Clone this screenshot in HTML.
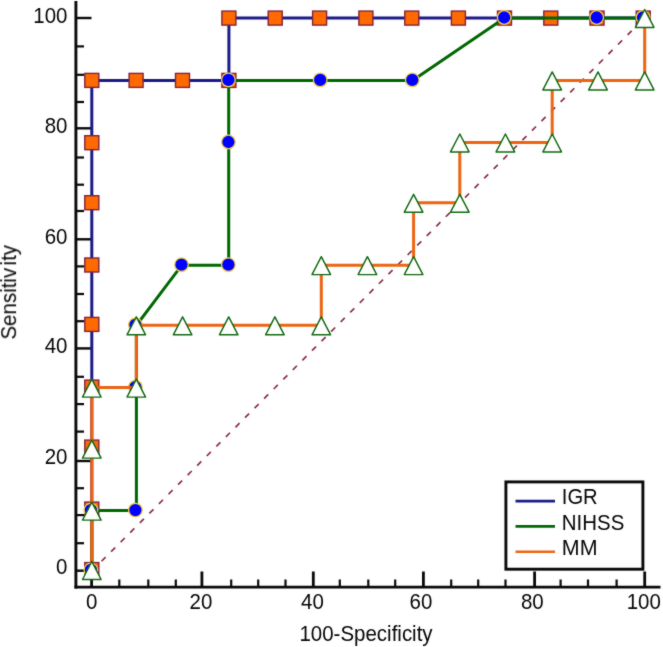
<!DOCTYPE html>
<html><head><meta charset="utf-8"><style>
html,body{margin:0;padding:0;background:#fff;}
svg{display:block;}
text{font-family:"Liberation Sans",sans-serif;font-size:20.5px;fill:#050505;}
</style></head><body>
<svg width="663" height="647" viewBox="0 0 663 647">
<defs><filter id="soft" x="0" y="0" width="663" height="647" filterUnits="userSpaceOnUse" color-interpolation-filters="sRGB"><feConvolveMatrix order="3" kernelMatrix="1 2 1 2 20 2 1 2 1" divisor="32" edgeMode="duplicate" preserveAlpha="true"/></filter></defs>
<g filter="url(#soft)">
<rect x="0" y="0" width="663" height="647" fill="#fff"/>
<line x1="75.9" y1="1" x2="75.9" y2="588.6" stroke="#080808" stroke-width="2.9"/>
<line x1="74.45" y1="587.1" x2="660.5" y2="587.1" stroke="#080808" stroke-width="2.9"/>
<line x1="75.9" y1="570.7" x2="91.5" y2="570.7" stroke="#080808" stroke-width="2.4"/>
<line x1="75.9" y1="543.2" x2="84" y2="543.2" stroke="#080808" stroke-width="2.2"/>
<line x1="75.9" y1="515.1" x2="84" y2="515.1" stroke="#080808" stroke-width="2.2"/>
<line x1="75.9" y1="488.2" x2="84" y2="488.2" stroke="#080808" stroke-width="2.2"/>
<line x1="75.9" y1="461" x2="91.5" y2="461" stroke="#080808" stroke-width="2.4"/>
<line x1="75.9" y1="431.6" x2="84" y2="431.6" stroke="#080808" stroke-width="2.2"/>
<line x1="75.9" y1="404.1" x2="84" y2="404.1" stroke="#080808" stroke-width="2.2"/>
<line x1="75.9" y1="376.8" x2="84" y2="376.8" stroke="#080808" stroke-width="2.2"/>
<line x1="75.9" y1="348.4" x2="91.5" y2="348.4" stroke="#080808" stroke-width="2.4"/>
<line x1="75.9" y1="321.2" x2="84" y2="321.2" stroke="#080808" stroke-width="2.2"/>
<line x1="75.9" y1="294" x2="84" y2="294" stroke="#080808" stroke-width="2.2"/>
<line x1="75.9" y1="266.4" x2="84" y2="266.4" stroke="#080808" stroke-width="2.2"/>
<line x1="75.9" y1="239.3" x2="91.5" y2="239.3" stroke="#080808" stroke-width="2.4"/>
<line x1="75.9" y1="211" x2="84" y2="211" stroke="#080808" stroke-width="2.2"/>
<line x1="75.9" y1="184.7" x2="84" y2="184.7" stroke="#080808" stroke-width="2.2"/>
<line x1="75.9" y1="157.5" x2="84" y2="157.5" stroke="#080808" stroke-width="2.2"/>
<line x1="75.9" y1="128.3" x2="91.5" y2="128.3" stroke="#080808" stroke-width="2.4"/>
<line x1="75.9" y1="102" x2="84" y2="102" stroke="#080808" stroke-width="2.2"/>
<line x1="75.9" y1="74.8" x2="84" y2="74.8" stroke="#080808" stroke-width="2.2"/>
<line x1="75.9" y1="46.4" x2="84" y2="46.4" stroke="#080808" stroke-width="2.2"/>
<line x1="75.9" y1="18" x2="91.5" y2="18" stroke="#080808" stroke-width="2.4"/>
<line x1="91.6" y1="587.1" x2="91.6" y2="571.5" stroke="#080808" stroke-width="2.8"/>
<line x1="119.3" y1="587.1" x2="119.3" y2="579.5" stroke="#080808" stroke-width="2.2"/>
<line x1="148.3" y1="587.1" x2="148.3" y2="579.5" stroke="#080808" stroke-width="2.2"/>
<line x1="175.8" y1="587.1" x2="175.8" y2="579.5" stroke="#080808" stroke-width="2.2"/>
<line x1="201.9" y1="587.1" x2="201.9" y2="571.5" stroke="#080808" stroke-width="2.8"/>
<line x1="231.2" y1="587.1" x2="231.2" y2="579.5" stroke="#080808" stroke-width="2.2"/>
<line x1="258.2" y1="587.1" x2="258.2" y2="579.5" stroke="#080808" stroke-width="2.2"/>
<line x1="285.5" y1="587.1" x2="285.5" y2="579.5" stroke="#080808" stroke-width="2.2"/>
<line x1="313.3" y1="587.1" x2="313.3" y2="571.5" stroke="#080808" stroke-width="2.8"/>
<line x1="339.8" y1="587.1" x2="339.8" y2="579.5" stroke="#080808" stroke-width="2.2"/>
<line x1="368.3" y1="587.1" x2="368.3" y2="579.5" stroke="#080808" stroke-width="2.2"/>
<line x1="395.2" y1="587.1" x2="395.2" y2="579.5" stroke="#080808" stroke-width="2.2"/>
<line x1="423.4" y1="587.1" x2="423.4" y2="571.5" stroke="#080808" stroke-width="2.8"/>
<line x1="451.2" y1="587.1" x2="451.2" y2="579.5" stroke="#080808" stroke-width="2.2"/>
<line x1="478.2" y1="587.1" x2="478.2" y2="579.5" stroke="#080808" stroke-width="2.2"/>
<line x1="505.5" y1="587.1" x2="505.5" y2="579.5" stroke="#080808" stroke-width="2.2"/>
<line x1="534.6" y1="587.1" x2="534.6" y2="571.5" stroke="#080808" stroke-width="2.8"/>
<line x1="560.6" y1="587.1" x2="560.6" y2="579.5" stroke="#080808" stroke-width="2.2"/>
<line x1="588" y1="587.1" x2="588" y2="579.5" stroke="#080808" stroke-width="2.2"/>
<line x1="616.6" y1="587.1" x2="616.6" y2="579.5" stroke="#080808" stroke-width="2.2"/>
<line x1="644.7" y1="587.1" x2="644.7" y2="571.5" stroke="#080808" stroke-width="2.8"/>
<line x1="91.8" y1="571" x2="644.5" y2="18" stroke="#8a2c44" stroke-width="1.7" stroke-dasharray="5.8 7.73" stroke-dashoffset="-0.25"/>
<polyline points="91.8,571.0 91.8,510.6 91.8,448.6 91.8,387.6 91.8,325.3 91.8,265.2 91.8,202.8 91.8,142.5 91.8,80.4 136.1,80.4 182.5,80.4 228.9,80.4 228.9,18.0 275.2,18.0 319.6,18.0 365.9,18.0 411.8,18.0 458.4,18.0 504.5,18.0 550.8,18.0 597.0,18.0 643.2,18.0" fill="none" stroke="#1a1a86" stroke-width="3"/>
<rect x="84.8" y="562.6" width="14" height="14" fill="#ff6a00" stroke="#82203c" stroke-width="1.4"/>
<rect x="84.8" y="502.1" width="14" height="14" fill="#ff6a00" stroke="#82203c" stroke-width="1.4"/>
<rect x="84.8" y="440.1" width="14" height="14" fill="#ff6a00" stroke="#82203c" stroke-width="1.4"/>
<rect x="84.8" y="380.1" width="14" height="14" fill="#ff6a00" stroke="#82203c" stroke-width="1.4"/>
<rect x="84.8" y="317.4" width="14" height="14" fill="#ff6a00" stroke="#82203c" stroke-width="1.4"/>
<rect x="84.8" y="258.0" width="14" height="14" fill="#ff6a00" stroke="#82203c" stroke-width="1.4"/>
<rect x="84.8" y="195.7" width="14" height="14" fill="#ff6a00" stroke="#82203c" stroke-width="1.4"/>
<rect x="84.8" y="135.7" width="14" height="14" fill="#ff6a00" stroke="#82203c" stroke-width="1.4"/>
<rect x="84.8" y="73.4" width="14" height="14" fill="#ff6a00" stroke="#82203c" stroke-width="1.4"/>
<rect x="129.1" y="73.4" width="14" height="14" fill="#ff6a00" stroke="#82203c" stroke-width="1.4"/>
<rect x="175.5" y="73.4" width="14" height="14" fill="#ff6a00" stroke="#82203c" stroke-width="1.4"/>
<rect x="221.9" y="73.4" width="14" height="14" fill="#ff6a00" stroke="#82203c" stroke-width="1.4"/>
<rect x="221.9" y="11.1" width="14" height="14" fill="#ff6a00" stroke="#82203c" stroke-width="1.4"/>
<rect x="268.2" y="11.1" width="14" height="14" fill="#ff6a00" stroke="#82203c" stroke-width="1.4"/>
<rect x="312.6" y="11.1" width="14" height="14" fill="#ff6a00" stroke="#82203c" stroke-width="1.4"/>
<rect x="358.9" y="11.1" width="14" height="14" fill="#ff6a00" stroke="#82203c" stroke-width="1.4"/>
<rect x="404.8" y="11.1" width="14" height="14" fill="#ff6a00" stroke="#82203c" stroke-width="1.4"/>
<rect x="451.4" y="11.1" width="14" height="14" fill="#ff6a00" stroke="#82203c" stroke-width="1.4"/>
<rect x="497.5" y="11.1" width="14" height="14" fill="#ff6a00" stroke="#82203c" stroke-width="1.4"/>
<rect x="543.8" y="11.1" width="14" height="14" fill="#ff6a00" stroke="#82203c" stroke-width="1.4"/>
<rect x="590.0" y="11.1" width="14" height="14" fill="#ff6a00" stroke="#82203c" stroke-width="1.4"/>
<rect x="636.2" y="11.1" width="14" height="14" fill="#ff6a00" stroke="#82203c" stroke-width="1.4"/>
<polyline points="91.8,571.0 91.8,510.6 136.4,510.6 136.4,387.6 136.4,325.3 181.8,265.2 228.7,265.2 228.7,142.5 228.7,80.4 320.5,80.4 412.6,80.4 504.5,18.0 597.0,18.0 643.5,18.0" fill="none" stroke="#006600" stroke-width="3"/>
<circle cx="90.9" cy="569.9" r="6.8" fill="#0000ff" stroke="#f2d04a" stroke-width="1.3"/>
<circle cx="90.9" cy="510.1" r="6.8" fill="#0000ff" stroke="#f2d04a" stroke-width="1.3"/>
<circle cx="135.4" cy="510.1" r="6.8" fill="#0000ff" stroke="#f2d04a" stroke-width="1.3"/>
<circle cx="135.4" cy="387.1" r="6.8" fill="#0000ff" stroke="#f2d04a" stroke-width="1.3"/>
<circle cx="135.4" cy="324.8" r="6.8" fill="#0000ff" stroke="#f2d04a" stroke-width="1.3"/>
<circle cx="181.5" cy="264.7" r="6.8" fill="#0000ff" stroke="#f2d04a" stroke-width="1.3"/>
<circle cx="228.4" cy="264.7" r="6.8" fill="#0000ff" stroke="#f2d04a" stroke-width="1.3"/>
<circle cx="228.4" cy="142.0" r="6.8" fill="#0000ff" stroke="#f2d04a" stroke-width="1.3"/>
<circle cx="228.4" cy="79.9" r="6.8" fill="#0000ff" stroke="#f2d04a" stroke-width="1.3"/>
<circle cx="320.2" cy="79.9" r="6.8" fill="#0000ff" stroke="#f2d04a" stroke-width="1.3"/>
<circle cx="412.3" cy="79.9" r="6.8" fill="#0000ff" stroke="#f2d04a" stroke-width="1.3"/>
<circle cx="504.2" cy="17.5" r="6.8" fill="#0000ff" stroke="#f2d04a" stroke-width="1.3"/>
<circle cx="596.7" cy="17.5" r="6.8" fill="#0000ff" stroke="#f2d04a" stroke-width="1.3"/>
<circle cx="643.0" cy="17.5" r="6.8" fill="#0000ff" stroke="#f2d04a" stroke-width="1.3"/>
<polyline points="91.8,571.0 91.8,510.6 91.8,448.6 91.8,387.6 136.3,387.6 136.3,325.3 182.6,325.3 228.7,325.3 274.9,325.3 321.3,325.3 321.3,265.2 367.4,265.2 413.6,265.2 413.6,202.8 459.8,202.8 459.8,142.5 505.4,142.5 552.2,142.5 552.2,80.4 598.0,80.4 644.7,80.4 644.7,18.0" fill="none" stroke="#ec6412" stroke-width="3"/>
<polygon points="91.8,561.5 101.1,579.5 82.5,579.5" fill="#fff" stroke="#106810" stroke-width="1.45" stroke-linejoin="round"/>
<polygon points="91.8,502.1 101.1,520.1 82.5,520.1" fill="#fff" stroke="#106810" stroke-width="1.45" stroke-linejoin="round"/>
<polygon points="91.8,440.1 101.1,458.1 82.5,458.1" fill="#fff" stroke="#106810" stroke-width="1.45" stroke-linejoin="round"/>
<polygon points="91.8,379.1 101.1,397.1 82.5,397.1" fill="#fff" stroke="#106810" stroke-width="1.45" stroke-linejoin="round"/>
<polygon points="136.3,379.1 145.6,397.1 127.0,397.1" fill="#fff" stroke="#106810" stroke-width="1.45" stroke-linejoin="round"/>
<polygon points="136.3,316.8 145.6,334.8 127.0,334.8" fill="#fff" stroke="#106810" stroke-width="1.45" stroke-linejoin="round"/>
<polygon points="182.6,316.8 191.9,334.8 173.3,334.8" fill="#fff" stroke="#106810" stroke-width="1.45" stroke-linejoin="round"/>
<polygon points="228.7,316.8 238.0,334.8 219.4,334.8" fill="#fff" stroke="#106810" stroke-width="1.45" stroke-linejoin="round"/>
<polygon points="274.9,316.8 284.2,334.8 265.6,334.8" fill="#fff" stroke="#106810" stroke-width="1.45" stroke-linejoin="round"/>
<polygon points="321.3,316.8 330.6,334.8 312.0,334.8" fill="#fff" stroke="#106810" stroke-width="1.45" stroke-linejoin="round"/>
<polygon points="321.3,256.7 330.6,274.6 312.0,274.6" fill="#fff" stroke="#106810" stroke-width="1.45" stroke-linejoin="round"/>
<polygon points="367.4,256.7 376.7,274.6 358.1,274.6" fill="#fff" stroke="#106810" stroke-width="1.45" stroke-linejoin="round"/>
<polygon points="413.6,256.7 422.9,274.6 404.3,274.6" fill="#fff" stroke="#106810" stroke-width="1.45" stroke-linejoin="round"/>
<polygon points="413.6,194.3 422.9,212.2 404.3,212.2" fill="#fff" stroke="#106810" stroke-width="1.45" stroke-linejoin="round"/>
<polygon points="459.8,194.3 469.1,212.2 450.5,212.2" fill="#fff" stroke="#106810" stroke-width="1.45" stroke-linejoin="round"/>
<polygon points="459.8,134.0 469.1,151.9 450.5,151.9" fill="#fff" stroke="#106810" stroke-width="1.45" stroke-linejoin="round"/>
<polygon points="505.4,134.0 514.7,151.9 496.1,151.9" fill="#fff" stroke="#106810" stroke-width="1.45" stroke-linejoin="round"/>
<polygon points="552.2,134.0 561.5,151.9 542.9,151.9" fill="#fff" stroke="#106810" stroke-width="1.45" stroke-linejoin="round"/>
<polygon points="552.2,71.9 561.5,89.9 542.9,89.9" fill="#fff" stroke="#106810" stroke-width="1.45" stroke-linejoin="round"/>
<polygon points="598.0,71.9 607.3,89.9 588.7,89.9" fill="#fff" stroke="#106810" stroke-width="1.45" stroke-linejoin="round"/>
<polygon points="644.7,71.9 654.0,89.9 635.4,89.9" fill="#fff" stroke="#106810" stroke-width="1.45" stroke-linejoin="round"/>
<polygon points="644.7,9.5 654.0,27.4 635.4,27.4" fill="#fff" stroke="#106810" stroke-width="1.45" stroke-linejoin="round"/>
<rect x="505.9" y="481.9" width="137" height="87.3" fill="#fff" stroke="#080808" stroke-width="2.9"/>
<line x1="515.5" y1="501.1" x2="555" y2="501.1" stroke="#1a1a86" stroke-width="2.6"/>
<line x1="515.5" y1="526.4" x2="555" y2="526.4" stroke="#006600" stroke-width="2.6"/>
<line x1="515.5" y1="551.8" x2="555" y2="551.8" stroke="#ec6412" stroke-width="2.6"/>
<text x="0" y="0" transform="translate(561.8,504.4) scale(0.985,1.11)">IGR</text>
<text x="0" y="0" transform="translate(561.8,529.5) scale(1.0,1.11)">NIHSS</text>
<text x="0" y="0" transform="translate(561.8,555.1) scale(1.045,1.11)">MM</text>
<text x="0" y="0" transform="translate(67.5,22.8) scale(1,1.12) " text-anchor="end">100</text>
<text x="0" y="0" transform="translate(67.5,132.5) scale(1,1.12) " text-anchor="end">80</text>
<text x="0" y="0" transform="translate(67.5,244.1) scale(1,1.12) " text-anchor="end">60</text>
<text x="0" y="0" transform="translate(67.5,352.5) scale(1,1.12) " text-anchor="end">40</text>
<text x="0" y="0" transform="translate(67.5,464.1) scale(1,1.12) " text-anchor="end">20</text>
<text x="0" y="0" transform="translate(67.5,574.1) scale(1,1.12) " text-anchor="end">0</text>
<text x="0" y="0" transform="translate(91.7,609.2) scale(1,1.12) " text-anchor="middle">0</text>
<text x="0" y="0" transform="translate(200.9,609.2) scale(1,1.12) " text-anchor="middle">20</text>
<text x="0" y="0" transform="translate(312.5,609.2) scale(1,1.12) " text-anchor="middle">40</text>
<text x="0" y="0" transform="translate(420.9,609.2) scale(1,1.12) " text-anchor="middle">60</text>
<text x="0" y="0" transform="translate(532.3,609.2) scale(1,1.12) " text-anchor="middle">80</text>
<text x="0" y="0" transform="translate(643.8,609.2) scale(1,1.12) " text-anchor="middle">100</text>
<text x="0" y="0" transform="translate(366,640.9) scale(1,1.12) " text-anchor="middle">100-Specificity</text>
<text x="0" y="0" transform="translate(16.5,292.3) rotate(-90) scale(1.0,1.12)" text-anchor="middle">Sensitiv<tspan dx="2.4">ity</tspan></text>
</g>
</svg>
</body></html>
